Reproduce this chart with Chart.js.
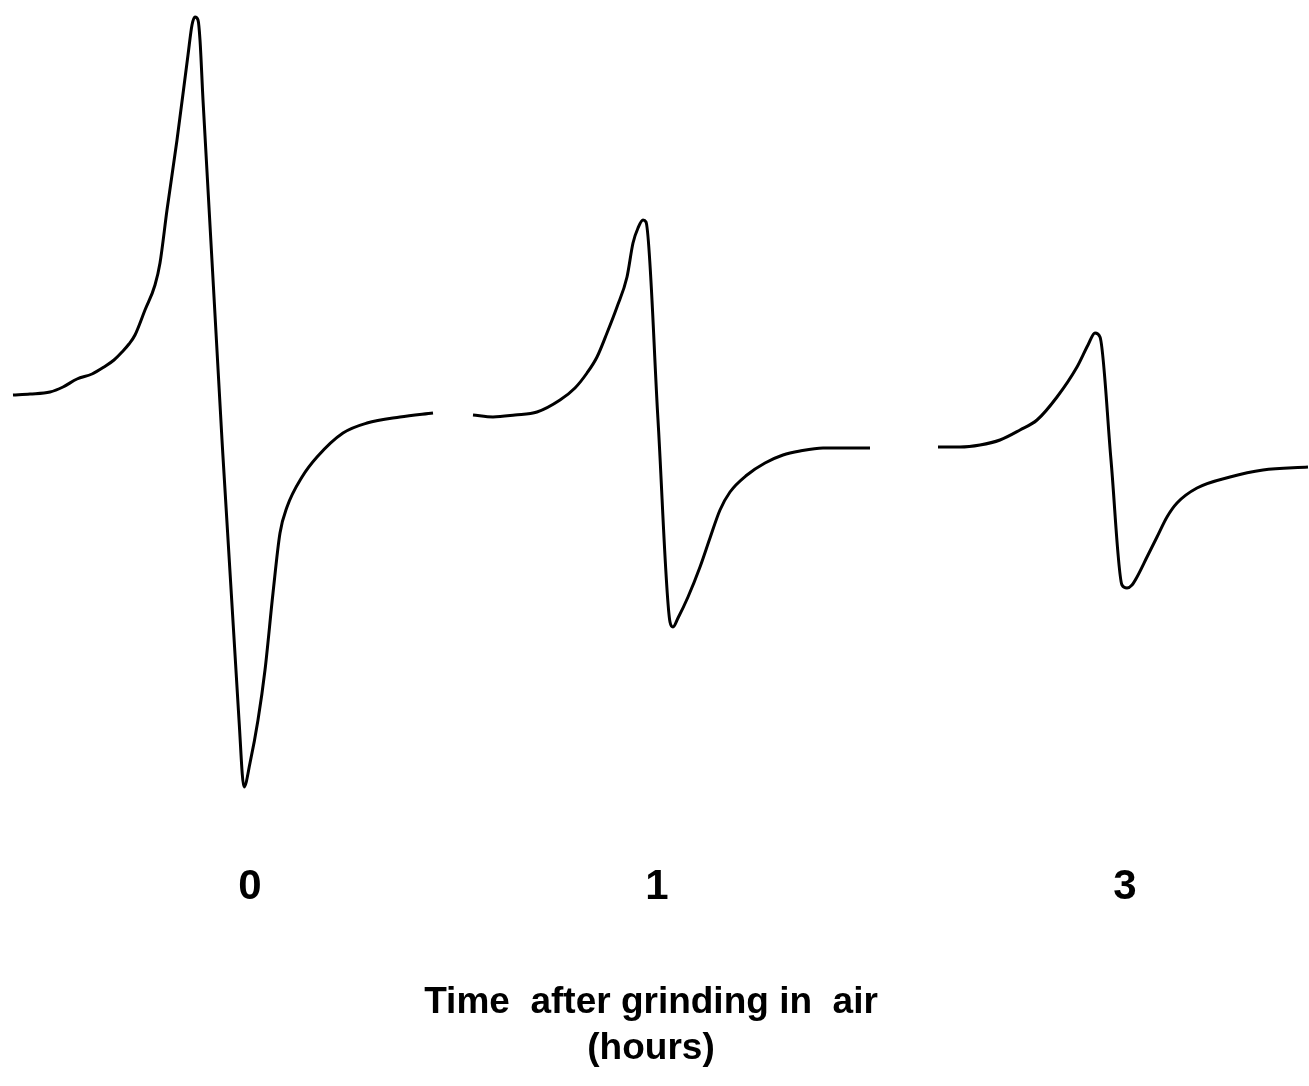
<!DOCTYPE html>
<html>
<head>
<meta charset="utf-8">
<title>Time after grinding in air</title>
<script src="https://cdn.jsdelivr.net/npm/chart.js@4.4.1/dist/chart.umd.min.js"></script>
<style>
  html, body { margin: 0; padding: 0; background: #fff; }
  canvas { display: block; }
</style>
</head>
<body>
<canvas id="spectra" width="1309" height="1086"></canvas>
<script>
// traces (x = field position, y = pen position, down is larger)
const trace0X = [13, 30, 50, 63, 77, 92, 104, 114, 122, 129, 135, 145, 155, 160, 167, 177, 188, 192, 195, 198, 200, 203, 222, 239, 244, 250, 258, 265, 273, 280, 287, 302, 317, 343, 367, 400, 433];
const trace0Y = [395, 394, 392, 387, 379, 374, 367, 360, 352, 344, 335, 310, 285, 263, 210, 140, 55, 25, 17, 20, 40, 100, 440, 720, 787, 763, 720, 670, 593, 533, 507, 477, 457, 433, 423, 417, 413];

const trace1X = [473, 493, 515, 537, 560, 575, 587, 597, 607, 617, 627, 633, 638, 643, 646, 658, 670, 673, 678, 688, 700, 710, 720, 730, 747, 765, 783, 800, 823, 845, 870];
const trace1Y = [415, 417, 415, 412, 400, 388, 373, 357, 333, 307, 277, 243, 228, 220, 222, 420, 622, 627, 618, 597, 567, 538, 510, 492, 475, 463, 455, 451, 448, 448, 448];

const trace3X = [938, 960, 980, 1000, 1020, 1037, 1057, 1077, 1088, 1095, 1100, 1111, 1122, 1127, 1132, 1137, 1147, 1157, 1167, 1177, 1197, 1230, 1263, 1308];
const trace3Y = [447, 447, 445, 440, 430, 420, 397, 367, 345, 333, 337, 460, 585, 588, 585, 577, 557, 537, 517, 503, 488, 477, 470, 467];

const timeLabels = ['0', '1', '3'];
const captionLines = ['Time  after grinding in  air', '(hours)'];

// where the hour labels sit (in x-scale units)
const labelPos = [250, 657, 1125];

const toPoints = (xs, ys) => xs.map((x, i) => ({ x: x, y: ys[i] }));

const whiteBg = {
  id: 'whiteBg',
  beforeDraw(chart) {
    const c = chart.ctx;
    c.save();
    c.fillStyle = '#fff';
    c.fillRect(0, 0, chart.width, chart.height);
    c.restore();
  }
};

const figureText = {
  id: 'figureText',
  afterDraw(chart) {
    const c = chart.ctx;
    const xs = chart.scales.x;
    const ys = chart.scales.y;
    c.save();
    c.fillStyle = '#000';
    c.textAlign = 'center';
    c.textBaseline = 'alphabetic';
    c.font = 'bold 42px "Liberation Sans", Arial, sans-serif';
    timeLabels.forEach((t, i) => {
      c.fillText(t, xs.getPixelForValue(labelPos[i]), ys.getPixelForValue(899));
    });
    c.font = 'bold 37px "Liberation Sans", Arial, sans-serif';
    c.fillText(captionLines[0], xs.getPixelForValue(651), ys.getPixelForValue(1013));
    c.fillText(captionLines[1], xs.getPixelForValue(651), ys.getPixelForValue(1059));
    c.restore();
  }
};

const lineStyle = {
  borderColor: '#000',
  borderWidth: 3,
  pointRadius: 0,
  fill: false,
  cubicInterpolationMode: 'monotone'
};

new Chart(document.getElementById('spectra'), {
  type: 'line',
  data: {
    datasets: [
      { label: '0 h', data: toPoints(trace0X, trace0Y), ...lineStyle },
      { label: '1 h', data: toPoints(trace1X, trace1Y), ...lineStyle },
      { label: '3 h', data: toPoints(trace3X, trace3Y), ...lineStyle }
    ]
  },
  options: {
    responsive: false,
    animation: false,
    devicePixelRatio: 1,
    layout: { padding: 0 },
    plugins: {
      legend: { display: false },
      tooltip: { enabled: false }
    },
    scales: {
      x: { type: 'linear', min: 0, max: 1309, display: false },
      y: { type: 'linear', min: 0, max: 1086, reverse: true, display: false }
    }
  },
  plugins: [whiteBg, figureText]
});
</script>
</body>
</html>
